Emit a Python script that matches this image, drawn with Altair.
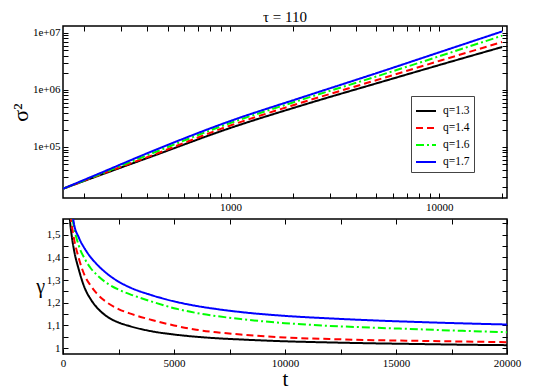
import altair as alt
import pandas as pd

series = ["q=1.3", "q=1.4", "q=1.6", "q=1.7"]
colors = ["#000000", "#ff0000", "#00ff00", "#0000ff"]
dashes = [[1, 0], [7, 4], [8, 3, 2, 3], [1, 0]]

# top panel: sigma^2 vs t (log-log)
t_top = [158, 240, 415, 1000, 2180, 5290, 10250, 20000]
sig_q13 = [18450, 32400, 66900, 215000, 530000, 1381000, 2800000, 5650000]
sig_q14 = [18450, 33060, 69600, 237600, 595000, 1578000, 3310000, 6900000]
sig_q16 = [18450, 33730, 75400, 262700, 668000, 1836000, 4006000, 8930000]
sig_q17 = [18450, 35130, 81800, 284800, 730000, 2100000, 4700000, 10600000]

# bottom panel: gamma vs t
t_bot = [200, 300, 400, 500, 700, 1000, 1250, 1500, 2000, 2500, 3000, 4000, 5000,
         6000, 7000, 8000, 10000, 12000, 14000, 16000, 18000, 20000]
gam_q13 = [1.75, 1.58, 1.49, 1.43, 1.35, 1.26, 1.215, 1.182, 1.138, 1.113, 1.097, 1.074, 1.06,
           1.05, 1.043, 1.038, 1.03, 1.025, 1.021, 1.018, 1.015, 1.013]
gam_q14 = [1.78, 1.62, 1.54, 1.48, 1.40, 1.315, 1.275, 1.243, 1.20, 1.172, 1.153, 1.124, 1.10,
           1.081, 1.069, 1.06, 1.047, 1.04, 1.035, 1.032, 1.029, 1.026]
gam_q16 = [1.85, 1.68, 1.59, 1.53, 1.455, 1.39, 1.352, 1.325, 1.285, 1.258, 1.238, 1.205, 1.176,
           1.155, 1.14, 1.128, 1.11, 1.098, 1.09, 1.083, 1.076, 1.07]
gam_q17 = [1.9, 1.72, 1.61, 1.545, 1.49, 1.435, 1.40, 1.372, 1.327, 1.293, 1.268, 1.233, 1.206,
           1.186, 1.171, 1.159, 1.142, 1.131, 1.122, 1.115, 1.109, 1.104]

x_top_ticks = [200, 300, 400, 500, 600, 700, 800, 900, 1000, 2000, 3000, 4000, 5000,
               6000, 7000, 8000, 9000, 10000, 20000]
y_top_ticks = [20000, 30000, 40000, 50000, 60000, 70000, 80000, 90000,
               100000, 200000, 300000, 400000, 500000, 600000, 700000, 800000, 900000,
               1000000, 2000000, 3000000, 4000000, 5000000, 6000000, 7000000, 8000000,
               9000000, 10000000]
x_bot_ticks = [0, 2500, 5000, 7500, 10000, 12500, 15000, 17500, 20000]
y_bot_ticks = [1.0, 1.05, 1.1, 1.15, 1.2, 1.25, 1.3, 1.35, 1.4, 1.45, 1.5, 1.55]

top_df = pd.DataFrame({
    "t": t_top * 4,
    "v": sig_q13 + sig_q14 + sig_q16 + sig_q17,
    "s": [s for s in series for _ in t_top],
})
bot_df = pd.DataFrame({
    "t": t_bot * 4,
    "v": gam_q13 + gam_q14 + gam_q16 + gam_q17,
    "s": [s for s in series for _ in t_bot],
})

FONT = "Liberation Serif"
TK = 5


def axis(values, label_expr, labels=True, orient=None, **kw):
    args = dict(values=values, tickSize=TK, offset=-TK, domain=False, grid=False,
                tickColor="black", tickWidth=1, labels=labels, labelFont=FONT,
                labelFontSize=11, labelColor="black", labelPadding=3,
                labelFlush=False, labelOverlap=False, labelExpr=label_expr)
    if orient:
        args["orient"] = orient
    args.update(kw)
    return alt.Axis(**args)


def panel(df, xscale, yscale, xvals, yvals, xexpr, yexpr, xtitle_kw, ytitle_kw, legend, w, h):
    color_scale = alt.Scale(domain=series, range=colors)
    dash_scale = alt.Scale(domain=series, range=dashes)
    main = alt.Chart(df).mark_line(strokeWidth=2, clip=True, interpolate="monotone").encode(
        x=alt.X("t:Q", scale=xscale, axis=axis(xvals, xexpr, **xtitle_kw)),
        y=alt.Y("v:Q", scale=yscale, axis=axis(yvals, yexpr, **ytitle_kw)),
        color=alt.Color("s:N", scale=color_scale, legend=legend),
        strokeDash=alt.StrokeDash("s:N", scale=dash_scale, legend=legend),
    )
    mirror = alt.Chart(df).mark_line(opacity=0, clip=True).encode(
        x=alt.X("t:Q", scale=xscale, axis=axis(xvals, "''", labels=False, orient="top"), title=None),
        y=alt.Y("v:Q", scale=yscale, axis=axis(yvals, "''", labels=False, orient="right"), title=None),
        detail="s:N",
    )
    return alt.layer(main, mirror).resolve_axis(x="independent", y="independent").properties(
        width=w, height=h)


legend = alt.Legend(title=None, orient="none", legendX=348, legendY=70, symbolType="stroke",
                    symbolStrokeWidth=2, symbolSize=400, labelFont=FONT, labelFontSize=11.5,
                    labelColor="black", strokeColor="#444444", fillColor="white",
                    padding=4, rowPadding=0, labelOffset=6, cornerRadius=0)

top = panel(
    top_df,
    alt.Scale(type="log", domain=[158, 21100], nice=False),
    alt.Scale(type="log", domain=[12700, 13200000], nice=False),
    x_top_ticks, y_top_ticks,
    "datum.value == 1000 || datum.value == 10000 ? format(datum.value, 'd') : ''",
    "datum.value == 100000 ? '1e+05' : datum.value == 1000000 ? '1e+06' : datum.value == 10000000 ? '1e+07' : ''",
    dict(title=None),
    dict(title="σ²", titleFont=FONT, titleFontSize=22, titleFontWeight="normal",
         titleColor="black", titlePadding=0),
    legend, 444, 172,
).properties(title=alt.TitleParams("τ = 110", font=FONT, fontSize=15, fontWeight="normal",
                                   color="black", anchor="middle", frame="group", offset=1))

bottom = panel(
    bot_df,
    alt.Scale(domain=[0, 20000], nice=False),
    alt.Scale(domain=[0.974, 1.569], nice=False, zero=False),
    x_bot_ticks, y_bot_ticks,
    "datum.value % 5000 == 0 ? format(datum.value, 'd') : ''",
    "abs(datum.value * 10 - round(datum.value * 10)) < 0.001 ? replace(format(datum.value, '.1~f'), '.', ',') : ''",
    dict(title="t", titleFont=FONT, titleFontSize=21, titleFontWeight="normal",
         titleColor="black", titlePadding=0),
    dict(title="γ", titleFont=FONT, titleFontSize=20, titleFontWeight="normal",
         titleColor="black", titleAngle=0, titlePadding=6, titleBaseline="middle"),
    None, 444, 135,
)

chart = alt.vconcat(top, bottom, spacing=3).resolve_scale(
    color="independent", strokeDash="independent"
).properties(
    padding={"left": 0, "top": 0, "right": 0, "bottom": 0},
    background="white",
).configure_view(stroke="black", strokeWidth=1.5)

chart.save("out.html", embed_options={"renderer": "svg", "actions": False})
